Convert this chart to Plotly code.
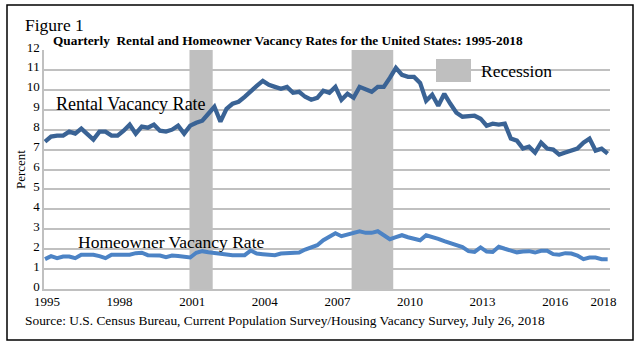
import plotly.graph_objects as go

# ---- data (quarterly, 1995 Q1 .. 2018 Q2) ----
start_year = 1995
rental = [7.4, 7.65, 7.7, 7.7, 7.9, 7.8, 8.05, 7.8, 7.5, 7.9, 7.9, 7.7,
          7.7, 7.95, 8.25, 7.8, 8.15, 8.1, 8.25, 7.95, 7.9, 8.0, 8.2, 7.8,
          8.2, 8.35, 8.45, 8.8, 9.15, 8.4, 9.05, 9.3, 9.4, 9.65, 9.95, 10.2,
          10.45, 10.25, 10.15, 10.05, 10.15, 9.85, 9.9, 9.65, 9.5, 9.6, 9.95, 9.85,
          10.15, 9.5, 9.8, 9.6, 10.15, 10.05, 9.9, 10.15, 10.15, 10.6, 11.1, 10.75,
          10.65, 10.65, 10.35, 9.45, 9.75, 9.2, 9.8, 9.3, 8.85, 8.65, 8.65, 8.7,
          8.55, 8.2, 8.3, 8.25, 8.3, 7.55, 7.45, 7.05, 7.15, 6.85, 7.35, 7.05,
          7.0, 6.75, 6.85, 6.95, 7.05, 7.35, 7.55, 6.95, 7.05, 6.8]
homeowner = [1.5, 1.65, 1.55, 1.63, 1.63, 1.55, 1.72, 1.72, 1.72, 1.65, 1.55, 1.72,
             1.72, 1.72, 1.72, 1.8, 1.82, 1.7, 1.7, 1.68, 1.6, 1.68, 1.66, 1.6,
             1.58, 1.82, 1.9, 1.85, 1.8, 1.75, 1.7, 1.7, 1.7, 1.7, 1.93, 1.78,
             1.75, 1.7, 1.7, 1.78, 1.8, 1.8, 1.83, 1.98, 2.07, 2.2, 2.45, 2.65,
             2.8, 2.65, 2.72, 2.8, 2.9, 2.82, 2.82, 2.9, 2.7, 2.5, 2.6, 2.7,
             2.6, 2.5, 2.45, 2.7, 2.62, 2.52, 2.4, 2.3, 2.2, 2.1, 1.9, 1.86,
             2.09, 1.88, 1.86, 2.12, 2.02, 1.93, 1.84, 1.88, 1.9, 1.83, 1.92, 1.92,
             1.75, 1.72, 1.8, 1.78, 1.68, 1.5, 1.58, 1.58, 1.5, 1.5]
quarters = [f"{start_year + i // 4} Q{i % 4 + 1}" for i in range(len(rental))]
x_vals = [int(q[:4]) + (int(q[-1]) - 1) / 4 for q in quarters]

tick_years = [1995, 1998, 2001, 2004, 2007, 2010, 2013, 2016, 2018]
tick_labels = [str(y) for y in tick_years]

recession_starts = [2000.97, 2007.67]
recession_ends = [2001.93, 2009.39]

# ---- layout geometry (pixels) ----
W, H = 640, 344
L, R, T, B = 44, 30, 50, 55
pw, ph = W - L - R, H - T - B


def px(x):
    return (x - L) / pw


def py(y):
    return (H - B - y) / ph


FONT = "Liberation Serif, Times New Roman, serif"
RENTAL_C = "#3A6395"
HOME_C = "#4C83C5"
GRID_C = "#C0C0C0"

fig = go.Figure()
fig.add_trace(go.Scatter(x=x_vals, y=rental, mode="lines", name="Rental Vacancy Rate",
                         line=dict(color=RENTAL_C, width=4.3), showlegend=False))
fig.add_trace(go.Scatter(x=x_vals, y=homeowner, mode="lines", name="Homeowner Vacancy Rate",
                         line=dict(color=HOME_C, width=4), showlegend=False))

for x0, x1 in zip(recession_starts, recession_ends):
    fig.add_shape(type="rect", xref="x", yref="y", x0=x0, x1=x1, y0=0, y1=12,
                  fillcolor="#BFBFBF", line=dict(width=0), layer="between")

# legend box for Recession
fig.add_shape(type="rect", xref="paper", yref="paper",
              x0=px(436), x1=px(471), y0=py(82), y1=py(59),
              fillcolor="#BFBFBF", line=dict(width=0), layer="above")
# outer frame
fig.add_shape(type="rect", xref="paper", yref="paper",
              x0=px(7), x1=px(633), y0=py(340), y1=py(5),
              fillcolor="rgba(0,0,0,0)", line=dict(color="black", width=1.5), layer="above")

ann = [
    dict(text="Recession", x=px(479), y=py(71), xanchor="left", size=17.5),
    dict(text="Rental Vacancy Rate", x=px(131), y=py(104), xanchor="center", size=18),
    dict(text="Homeowner Vacancy Rate", x=px(171), y=py(242), xanchor="center", size=17.5),
    dict(text="Figure 1", x=px(23), y=py(25), xanchor="left", size=17.5),
    dict(text="<b>Quarterly  Rental and Homeowner Vacancy Rates for the United States: 1995-2018</b>",
         x=px(51), y=py(41), xanchor="left", size=13.3),
    dict(text="Source: U.S. Census Bureau, Current Population Survey/Housing Vacancy Survey, July 26, 2018",
         x=px(23), y=py(320), xanchor="left", size=13.4),
    dict(text="Percent", x=px(20), y=py(170), xanchor="center", size=13, textangle=-90),
]
for a in ann:
    fig.add_annotation(text=a["text"], x=a["x"], y=a["y"], xref="paper", yref="paper",
                       xanchor=a["xanchor"], yanchor="middle", showarrow=False,
                       textangle=a.get("textangle", 0),
                       font=dict(family=FONT, size=a["size"], color="black"))

fig.update_xaxes(range=[1995 - 1 / 24.2, 1995 + (W - R - 45) / 24.2],
                 tickmode="array", tickvals=tick_years, ticktext=tick_labels,
                 showgrid=False, zeroline=False, showline=True, linecolor=GRID_C, linewidth=1.5,
                 ticks="", tickfont=dict(family=FONT, size=13, color="black"), ticklabelshift=2)
fig.update_yaxes(range=[0, 12], dtick=1, tick0=0,
                 showgrid=True, gridcolor=GRID_C, gridwidth=1.5, zeroline=False,
                 showline=True, linecolor=GRID_C, linewidth=1.5, ticks="",
                 tickfont=dict(family=FONT, size=13, color="black"), ticklabelshift=-3)

fig.update_layout(width=W, height=H, margin=dict(l=L, r=R, t=T, b=B),
                  paper_bgcolor="white", plot_bgcolor="white", showlegend=False)

fig.write_html("out.html")
